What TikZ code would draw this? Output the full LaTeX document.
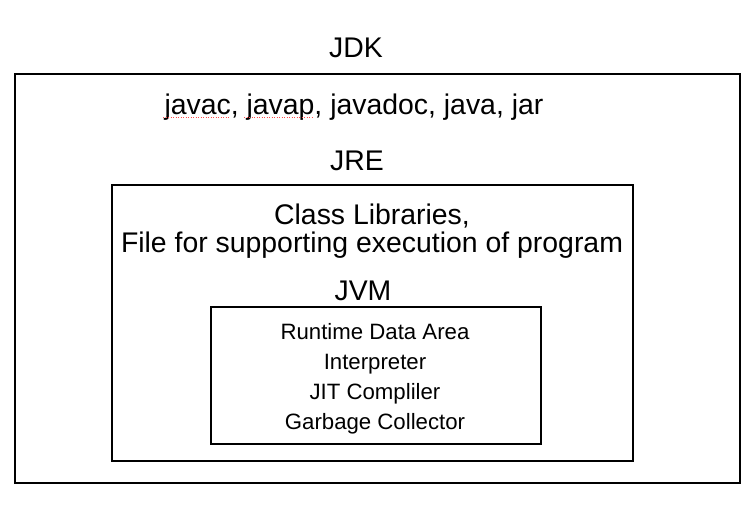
\documentclass[tikz,border=0pt]{standalone}
\usepackage{fontspec}
\setmainfont{Liberation Sans}
\begin{document}
\begin{tikzpicture}[x=1pt,y=-1pt,
  box/.style={draw=black, line width=2pt, inner sep=0pt, fill=none},
  big/.style={font=\fontsize{28.4}{30}\selectfont, anchor=base, inner sep=0pt},
  small/.style={font=\fontsize{22.2}{24}\selectfont, anchor=base, inner sep=0pt},
  spell/.style={draw=red!70, line width=0.7pt, dash pattern=on 1pt off 1.5pt}]
\useasboundingbox (0,0) rectangle (746,509);
\fill[white] (0,0) rectangle (746,509);
% boxes
\node[box, minimum width=725pt, minimum height=409pt] (jdk) at (377.5,278.5) {};
\node[box, minimum width=521pt, minimum height=276pt] (jre) at (372.5,323) {};
\node[box, minimum width=330pt, minimum height=137pt] (jvm) at (376,375.5) {};
% texts
\node[big] (tjdk) at (356,57) {JDK};
\node[big] (tools) at (354,114) {javac, javap, javadoc, java, jar};
\node[big] (tjre) at (357,170) {JRE};
\node[big] (lib1) at (372,224) {Class Libraries,};
\node[big] (lib2) at (372,252) {File for supporting execution of program};
\node[big] (tjvm) at (363,300) {JVM};
\node[small] (r1) at (375,339) {Runtime Data Area};
\node[small] (r2) at (375,369) {Interpreter};
\node[small] (r3) at (375,399) {JIT Compliler};
\node[small] (r4) at (375,429) {Garbage Collector};
% spellcheck underlines
\coordinate (s1a) at (163,117); \coordinate (s1b) at (229,117);
\coordinate (s2a) at (244,117); \coordinate (s2b) at (312,117);
\draw[spell] (s1a) -- (s1b);
\draw[spell] (s2a) -- (s2b);
\end{tikzpicture}
\end{document}
